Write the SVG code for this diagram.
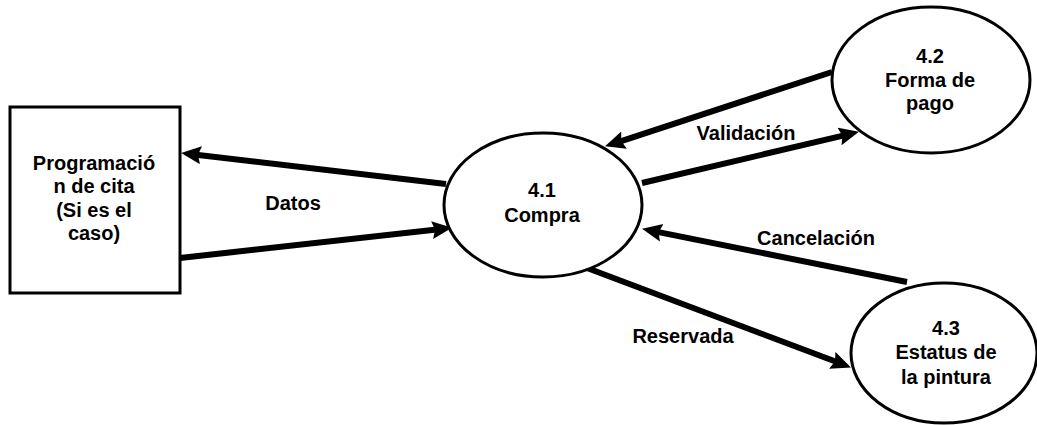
<svg xmlns="http://www.w3.org/2000/svg" width="1037" height="425" viewBox="0 0 1037 425">
<style>
.shape{fill:#fff;stroke:#000;stroke-width:3}
.flow{stroke:#000;stroke-width:6;fill:none;marker-end:url(#ah)}
text{font-family:"Liberation Sans",Arial,sans-serif;font-weight:bold;font-size:20px;fill:#000;text-anchor:middle}
</style>
<defs>
<marker id="ah" markerUnits="userSpaceOnUse" markerWidth="22" markerHeight="20" refX="7" refY="9" orient="auto">
<path d="M0,0 L20,9 L0,18 L3,9 z" fill="#000"/>
</marker>
</defs>
<rect width="1037" height="425" fill="#fff"/>
<g id="connectors">
<line class="flow" x1="446" y1="184" x2="194" y2="154.4"/>
<line class="flow" x1="180" y1="258" x2="439.1" y2="229.3"/>
<line class="flow" x1="832" y1="72" x2="617.4" y2="142.3"/>
<line class="flow" x1="642" y1="183" x2="846.3" y2="134.8"/>
<line class="flow" x1="907" y1="282" x2="654.8" y2="231.4"/>
<line class="flow" x1="587" y1="268" x2="838.8" y2="362.8"/>
<text x="293" y="210">Datos</text>
<text x="746" y="140">Validación</text>
<text x="816" y="245">Cancelación</text>
<text x="683" y="343">Reservada</text>
</g>
<g id="programacion">
<rect class="shape" x="10" y="107" width="170" height="186"/>
<text x="94" y="170">Programació</text>
<text x="94" y="193">n de cita</text>
<text x="94" y="217">(Si es el</text>
<text x="94" y="240">caso)</text>
</g>
<g id="compra">
<ellipse class="shape" cx="543" cy="205" rx="99" ry="72"/>
<text x="542" y="197">4.1</text>
<text x="542" y="222">Compra</text>
</g>
<g id="forma-pago">
<ellipse class="shape" cx="931" cy="80" rx="99" ry="73"/>
<text x="930" y="63">4.2</text>
<text x="930" y="87">Forma de</text>
<text x="930" y="110">pago</text>
</g>
<g id="estatus">
<ellipse class="shape" cx="944" cy="353" rx="93" ry="70"/>
<text x="946" y="335">4.3</text>
<text x="946" y="359">Estatus de</text>
<text x="946" y="384">la pintura</text>
</g>
</svg>
